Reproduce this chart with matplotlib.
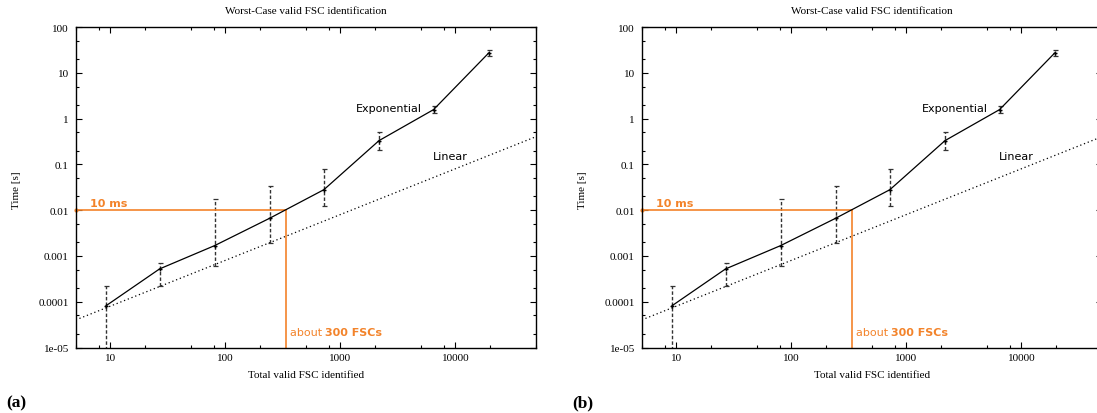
import numpy as np
import matplotlib
matplotlib.use("Agg")
from matplotlib import pyplot as plt
from matplotlib.ticker import FixedLocator, NullFormatter

# measured points (worst case runtime vs. number of FSCs)
fsc = [9.2, 26.8, 80.7, 243, 720, 2170, 6470, 19500]
time_s = [8.2e-5, 5.2e-4, 1.68e-3, 6.65e-3, 0.028, 0.33, 1.57, 27]
time_lo = [5e-6, 2.2e-4, 6.1e-4, 1.9e-3, 0.0125, 0.21, 1.32, 23.6]
time_hi = [2.25e-4, 6.9e-4, 0.0176, 0.033, 0.079, 0.50, 1.85, 32]

# linear reference line end points
linear_x = [5, 50000]
linear_y = [4e-5, 0.4]

# 10 ms budget
limit_time = 0.01
limit_fsc = 339

x_ticks = [10, 100, 1000, 10000]
x_ticklabels = ["10", "100", "1000", "10000"]
y_ticks = [1e-5, 1e-4, 1e-3, 1e-2, 0.1, 1, 10, 100]
y_ticklabels = ["1e-05", "0.0001", "0.001", "0.01", "0.1", "1", "10", "100"]

W, H = 1097, 414
ORANGE = "#f3832a"
SERIF = "Liberation Serif"
SANS = "DejaVu Sans"
FS = 8


def px_rect(left, top, w, h):
    return [left / W, 1 - (top + h) / H, w / W, h / H]


def draw_panel(fig, left, tag):
    ax = fig.add_axes(px_rect(left, 28, 460, 320.5))
    ax.set_xscale("log")
    ax.set_yscale("log")
    ax.set_xlim(5, 50000)
    ax.set_ylim(1e-5, 100)

    # linear reference
    ax.plot(linear_x, linear_y, color="black", lw=0.9, ls=(0, (1, 2.2)))

    # measurements with dashed error bars
    err = [np.array(time_s) - np.array(time_lo), np.array(time_hi) - np.array(time_s)]
    eb = ax.errorbar(fsc, time_s, yerr=err, color="black", lw=0.9, marker="+", ms=3.5,
                     ecolor="#333333", elinewidth=1.0, capsize=1.8, capthick=0.9)
    eb[2][0].set_linestyle((0, (2.5, 1.5)))

    # 10 ms budget
    ax.plot([5, limit_fsc], [limit_time, limit_time], color=ORANGE, lw=1.2, clip_on=False)
    ax.plot([limit_fsc, limit_fsc], [1e-5, limit_time], color=ORANGE, lw=1.2)
    ax.plot([5], [limit_time], "o", color=ORANGE, ms=2, clip_on=False)

    ax.text(6.6, 0.0145, "10 ms", color=ORANGE, fontsize=FS, fontweight="bold",
            family=SANS, va="center", ha="left")
    about = ax.text(363, 2.2e-5, "about ", color=ORANGE, fontsize=FS, family=SANS,
                    va="center", ha="left")
    ax.annotate("300 FSCs", xy=(1, 0), xycoords=about, color=ORANGE,
                fontsize=FS, fontweight="bold", family=SANS, va="bottom", ha="left")

    ax.text(1370, 1.7, "Exponential", fontsize=FS, family=SANS, va="center", ha="left")
    ax.text(6400, 0.155, "Linear", fontsize=FS, family=SANS, va="center", ha="left")

    ax.xaxis.set_major_locator(FixedLocator(x_ticks))
    ax.set_xticklabels(x_ticklabels)
    minor_x = [m * 10.0 ** e for e in range(0, 5) for m in (2, 5, 8)]
    ax.xaxis.set_minor_locator(FixedLocator(minor_x))
    ax.xaxis.set_minor_formatter(NullFormatter())
    ax.yaxis.set_major_locator(FixedLocator(y_ticks))
    ax.set_yticklabels(y_ticklabels)
    minor_y = [m * 10.0 ** e for e in range(-5, 2) for m in (2, 5)]
    ax.yaxis.set_minor_locator(FixedLocator(minor_y))
    ax.yaxis.set_minor_formatter(NullFormatter())

    ax.tick_params(which="both", direction="in", top=True, right=True, width=0.8)
    ax.tick_params(which="major", length=4)
    ax.tick_params(which="minor", length=2.2)
    ax.tick_params(axis="x", pad=4)
    ax.tick_params(axis="y", pad=5)
    for lab in ax.get_xticklabels() + ax.get_yticklabels():
        lab.set_family(SERIF)
        lab.set_fontsize(FS)
    for s in ax.spines.values():
        s.set_linewidth(1.0)

    cx = left + 230
    fig.text(cx / W, 1 - 11 / H, "Worst-Case valid FSC identification", family=SERIF,
             fontsize=FS, ha="center", va="center")
    fig.text(cx / W, 1 - 376 / H, "Total valid FSC identified", family=SERIF,
             fontsize=FS, ha="center", va="center")
    fig.text((left - 59) / W, 1 - 190 / H, "Time [s]", family=SERIF, fontsize=FS,
             rotation=90, ha="center", va="center")
    fig.text((left - 59) / W, 1 - 403 / H, tag, family=SERIF, fontsize=12.5,
             fontweight="bold", ha="center", va="center")
    return ax


fig = plt.figure(figsize=(W / 100, H / 100), dpi=100)
draw_panel(fig, 75.7, "(a)")
draw_panel(fig, 641.7, "(b)")
fig.savefig("out.png", dpi=100)
